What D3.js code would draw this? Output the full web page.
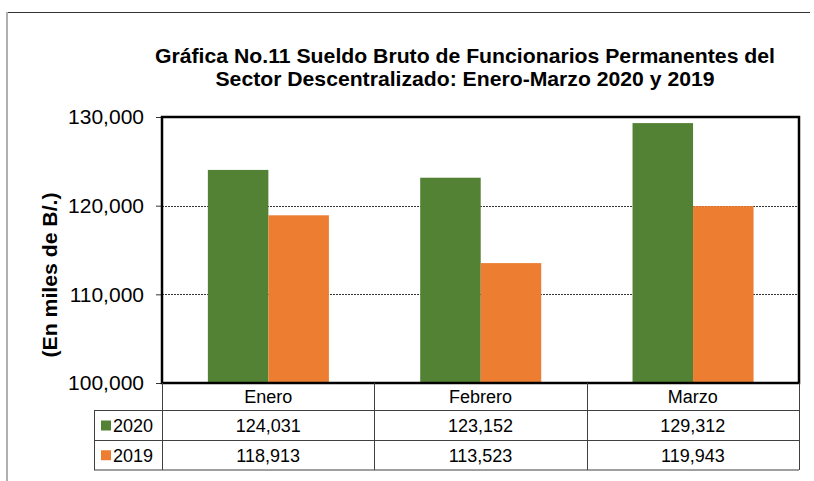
<!DOCTYPE html>
<meta charset="utf-8">
<title>Gráfica No.11</title>
<style>
  body { margin: 0; background: #fff; }
  svg { font-family: "Liberation Sans", Arial, sans-serif; }
  .grid { stroke: #333; stroke-width: 1px; stroke-dasharray: 2,1; }
  .tbl { stroke: #404040; stroke-width: 1px; fill: none; }
</style>
<body>
<script src="https://cdn.jsdelivr.net/npm/d3@7"></script>
<script>
  // data
  var months = ["Enero", "Febrero", "Marzo"];
  var series = ["2020", "2019"];
  var values2020 = [124031, 123152, 129312];
  var values2019 = [118913, 113523, 119943];
  var yTicks = [100000, 110000, 120000, 130000];
  var colors = ["#548235", "#ED7D31"];

  var width = 814, height = 481;
  var plot = { left: 162, right: 799, top: 117, bottom: 383 };
  var rows = [383, 410.5, 440.5, 470];
  var legendLeft = 94;

  var svg = d3.select("body").append("svg")
    .attr("width", width)
    .attr("height", height);

  // outer chart border (top + left only visible)
  svg.append("line").attr("x1", 7).attr("x2", 810).attr("y1", 12.5).attr("y2", 12.5)
    .attr("stroke", "#333").attr("stroke-width", 1);
  svg.append("line").attr("x1", 7).attr("x2", 7).attr("y1", 12).attr("y2", height)
    .attr("stroke", "#b0b0b0").attr("stroke-width", 2);

  // title
  svg.append("text")
    .attr("x", 465).attr("y", 63)
    .attr("text-anchor", "middle")
    .attr("font-weight", "bold")
    .attr("font-size", "20.5px")
    .attr("textLength", 620)
    .attr("lengthAdjust", "spacingAndGlyphs")
    .text("Gráfica No.11 Sueldo Bruto de Funcionarios Permanentes del");
  svg.append("text")
    .attr("x", 465).attr("y", 85.5)
    .attr("text-anchor", "middle")
    .attr("font-weight", "bold")
    .attr("font-size", "20.5px")
    .attr("textLength", 499)
    .attr("lengthAdjust", "spacingAndGlyphs")
    .text("Sector Descentralizado: Enero-Marzo 2020 y 2019");

  var y = d3.scaleLinear()
    .domain([100000, 130000])
    .range([plot.bottom, plot.top]);

  var x0 = d3.scaleBand()
    .domain(months)
    .range([plot.left, plot.right]);

  var bw = x0.bandwidth();
  var x1 = d3.scaleBand()
    .domain(series)
    .range([bw * 0.216, bw * 0.786]);

  // grid lines
  svg.selectAll(".grid")
    .data(yTicks.filter(function(d) { return d > 100000 && d < 130000; }))
    .enter().append("line")
    .attr("class", "grid")
    .attr("x1", plot.left).attr("x2", plot.right)
    .attr("y1", function(d) { return Math.round(y(d)) + 0.5; })
    .attr("y2", function(d) { return Math.round(y(d)) + 0.5; });

  // bars
  var table = months.map(function(m, i) {
    return { month: m, vals: [values2020[i], values2019[i]] };
  });

  var groups = svg.selectAll(".grp")
    .data(table)
    .enter().append("g")
    .attr("class", "grp")
    .attr("transform", function(d) { return "translate(" + x0(d.month) + ",0)"; });

  groups.selectAll("rect")
    .data(function(d) { return d.vals.map(function(v, j) { return { s: series[j], v: v, c: colors[j] }; }); })
    .enter().append("rect")
    .attr("x", function(d) { return x1(d.s); })
    .attr("width", x1.bandwidth())
    .attr("y", function(d) { return y(d.v); })
    .attr("height", function(d) { return plot.bottom - y(d.v); })
    .attr("fill", function(d) { return d.c; });

  // y axis
  var yAxis = d3.axisLeft(y)
    .tickValues(yTicks)
    .tickFormat(d3.format(","))
    .tickSize(6)
    .tickPadding(12);

  var ax = svg.append("g")
    .attr("transform", "translate(" + plot.left + ",0)")
    .call(yAxis);
  ax.select(".domain").remove();
  ax.selectAll("line").attr("stroke", "#333");
  ax.selectAll("text")
    .attr("font-size", "21px")
    .attr("font-family", "Liberation Sans, Arial, sans-serif")
    .attr("fill", "#000");

  // plot frame
  svg.append("rect")
    .attr("x", plot.left).attr("y", plot.top)
    .attr("width", plot.right - plot.left)
    .attr("height", plot.bottom - plot.top)
    .attr("fill", "none")
    .attr("stroke", "#000")
    .attr("stroke-width", 2.5);

  // y title
  svg.append("text")
    .attr("transform", "translate(57,275) rotate(-90)")
    .attr("text-anchor", "middle")
    .attr("font-weight", "bold")
    .attr("font-size", "21px")
    .attr("textLength", 165)
    .attr("lengthAdjust", "spacingAndGlyphs")
    .text("(En miles de B/.)");

  // data table
  var tg = svg.append("g");
  tg.selectAll(".hl")
    .data(rows.slice(1))
    .enter().append("line")
    .attr("class", "tbl")
    .attr("x1", legendLeft).attr("x2", plot.right)
    .attr("y1", function(d) { return d; }).attr("y2", function(d) { return d; });
  var vx = months.map(function(m) { return x0(m); }).concat([plot.right]);
  tg.selectAll(".vl")
    .data(vx)
    .enter().append("line")
    .attr("class", "tbl")
    .attr("x1", function(d) { return Math.round(d) + 0.5; })
    .attr("x2", function(d) { return Math.round(d) + 0.5; })
    .attr("y1", rows[0]).attr("y2", rows[3]);
  tg.append("line").attr("class", "tbl")
    .attr("x1", legendLeft + 0.5).attr("x2", legendLeft + 0.5)
    .attr("y1", rows[1]).attr("y2", rows[3]);

  // header labels
  tg.selectAll(".hdr")
    .data(months)
    .enter().append("text")
    .attr("x", function(d) { return x0(d) + bw / 2; })
    .attr("y", (rows[0] + rows[1]) / 2 + 6.5)
    .attr("text-anchor", "middle")
    .attr("font-size", "18px")
    .text(function(d) { return d; });

  // rows
  var fmt = d3.format(",");
  var allVals = [values2020, values2019];
  series.forEach(function(s, j) {
    var cy = (rows[j + 1] + rows[j + 2]) / 2;
    tg.append("rect")
      .attr("x", 101).attr("y", cy - 5)
      .attr("width", 10).attr("height", 10)
      .attr("fill", colors[j]);
    tg.append("text")
      .attr("x", 113).attr("y", cy + 6.5)
      .attr("font-size", "18px")
      .text(s);
    tg.selectAll(".v" + s)
      .data(allVals[j])
      .enter().append("text")
      .attr("x", function(d, i) { return x0(months[i]) + bw / 2; })
      .attr("y", cy + 6.5)
      .attr("text-anchor", "middle")
      .attr("font-size", "18px")
      .text(function(d) { return fmt(d); });
  });
</script>
</body>
